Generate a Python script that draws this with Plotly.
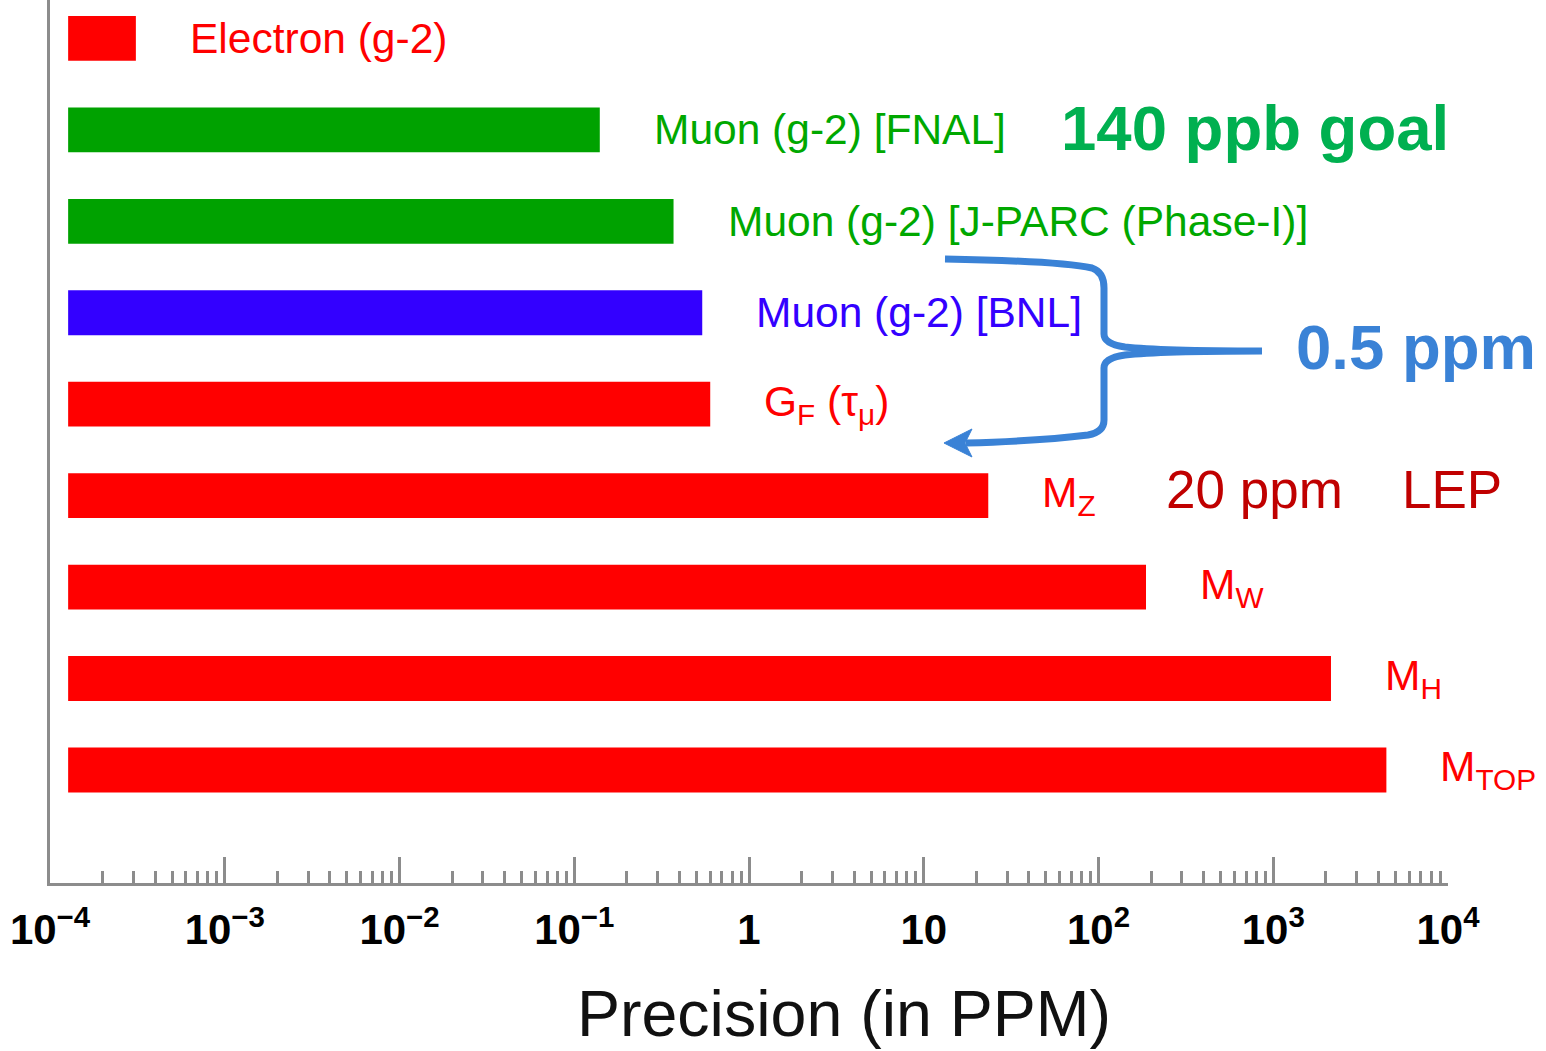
import numpy as np
import plotly.graph_objects as go

# ---------------- data ----------------
quantities = ["Electron (g-2)", "Muon (g-2) [FNAL]", "Muon (g-2) [J-PARC (Phase-I)]",
              "Muon (g-2) [BNL]", "G_F (tau_mu)", "M_Z", "M_W", "M_H", "M_TOP"]
labels_html = ["Electron (g-2)", "Muon (g-2) [FNAL]", "Muon (g-2) [J-PARC (Phase-I)]",
               "Muon (g-2) [BNL]", "G<sub>F</sub> (τ<sub>μ</sub>)", "M<sub>Z</sub>",
               "M<sub>W</sub>", "M<sub>H</sub>", "M<sub>TOP</sub>"]
precision_ppm = [0.00031, 0.14, 0.37, 0.54, 0.60, 23.4, 187, 2140, 4440]
bar_colors = ["#FF0000", "#00A200", "#00A200", "#3300FF", "#FF0000",
              "#FF0000", "#FF0000", "#FF0000", "#FF0000"]
label_colors = ["#FF0000", "#00A800", "#00A800", "#3300FF", "#FF0000",
                "#FF0000", "#FF0000", "#FF0000", "#FF0000"]
bar_base = 1.27e-4

tick_vals = [1e-4, 1e-3, 1e-2, 1e-1, 1, 10, 1e2, 1e3, 1e4]
tick_text = ["10<sup>−4</sup>", "10<sup>−3</sup>", "10<sup>−2</sup>", "10<sup>−1</sup>",
             "1", "10", "10<sup>2</sup>", "10<sup>3</sup>", "10<sup>4</sup>"]
minor_vals = [k * 10.0 ** e for e in range(-4, 4) for k in range(2, 10)]

# ---------------- layout geometry ----------------
W, H = 1546, 1051
ML, MR, MT, MB = 50, 98, 0, 168
PW, PH = W - ML - MR, H - MT - MB


def pp(x, y):
    """pixel -> paper coordinates string"""
    return f"{(x - ML) / PW:.5f},{(MT + PH - y) / PH:.5f}"


FONT = "Liberation Sans, Arial, Helvetica, sans-serif"

fig = go.Figure()
fig.add_trace(go.Bar(
    y=quantities,
    x=[p - bar_base for p in precision_ppm],
    base=bar_base,
    orientation="h",
    marker=dict(color=bar_colors, line=dict(width=0)),
    width=0.49,
    hoverinfo="skip",
))

annotations = []
for q, lab, p, c in zip(quantities, labels_html, precision_ppm, label_colors):
    annotations.append(dict(
        x=np.log10(p), y=q, xref="x", yref="y", text=lab, showarrow=False,
        xanchor="left", yanchor="middle", xshift=52,
        font=dict(family=FONT, size=42.5, color=c),
    ))

# free text
annotations += [
    dict(xref="paper", yref="paper", x=(1255 - ML) / PW, y=(PH - 128) / PH,
         text="<b>140 ppb goal</b>", showarrow=False, xanchor="center", yanchor="middle",
         font=dict(family=FONT, size=63.5, color="#00B050")),
    dict(xref="paper", yref="paper", x=(1416 - ML) / PW, y=(PH - 347) / PH,
         text="<b>0.5 ppm</b>", showarrow=False, xanchor="center", yanchor="middle",
         font=dict(family=FONT, size=63.5, color="#3A82D6")),
    dict(xref="paper", yref="paper", x=(1254 - ML) / PW, y=(PH - 490) / PH,
         text="20 ppm", showarrow=False, xanchor="center", yanchor="middle",
         font=dict(family=FONT, size=53, color="#C00000")),
    dict(xref="paper", yref="paper", x=(1452 - ML) / PW, y=(PH - 490) / PH,
         text="LEP", showarrow=False, xanchor="center", yanchor="middle",
         font=dict(family=FONT, size=53, color="#C00000")),
    dict(xref="paper", yref="paper", x=(844 - ML) / PW, y=(PH - 1014) / PH,
         text="Precision (in PPM)", showarrow=False, xanchor="center", yanchor="middle",
         font=dict(family=FONT, size=64.5, color="#111111")),
]

brace_color = "#3A82D6"
brace_path = (
    f"M {pp(945, 259)} "
    f"Q {pp(1060, 261)} {pp(1092, 268)} "
    f"Q {pp(1104, 272)} {pp(1104, 288)} "
    f"L {pp(1104, 334)} "
    f"Q {pp(1104, 344)} {pp(1125, 347)} "
    f"Q {pp(1160, 351)} {pp(1262, 351)} "
    f"Q {pp(1160, 351)} {pp(1125, 355)} "
    f"Q {pp(1104, 358)} {pp(1104, 368)} "
    f"L {pp(1104, 420)} "
    f"Q {pp(1104, 432)} {pp(1088, 435)} "
    f"Q {pp(1040, 441)} {pp(966, 443)}"
)
arrow_path = (
    f"M {pp(944, 443)} L {pp(972, 429)} L {pp(965, 443)} L {pp(972, 457)} Z"
)
shapes = [
    dict(type="path", xref="paper", yref="paper", path=brace_path,
         line=dict(color=brace_color, width=7)),
    dict(type="path", xref="paper", yref="paper", path=arrow_path,
         line=dict(color=brace_color, width=1), fillcolor=brace_color),
]

fig.update_layout(
    width=W, height=H,
    margin=dict(l=ML, r=MR, t=MT, b=MB, pad=0),
    paper_bgcolor="white", plot_bgcolor="white",
    showlegend=False,
    annotations=annotations,
    shapes=shapes,
    xaxis=dict(
        type="log", range=[-4, 4],
        tickmode="array", tickvals=tick_vals, ticktext=tick_text,
        ticks="inside", ticklen=26, tickwidth=3, tickcolor="#8c8c8c",
        minor=dict(tickmode="array", tickvals=minor_vals, ticks="inside",
                   ticklen=12, tickwidth=3, tickcolor="#8c8c8c", showgrid=False),
        showline=True, linecolor="#8c8c8c", linewidth=3,
        showgrid=False, zeroline=False,
        tickfont=dict(family=FONT, size=42, color="black", weight="bold"),
        ticklabelstandoff=8,
    ),
    yaxis=dict(
        type="category", categoryorder="array", categoryarray=quantities[::-1],
        range=[-1.236, 8.42],
        showticklabels=False, ticks="", showgrid=False, zeroline=False,
        showline=True, linecolor="#8c8c8c", linewidth=3,
    ),
)

fig.write_html("out.html")
